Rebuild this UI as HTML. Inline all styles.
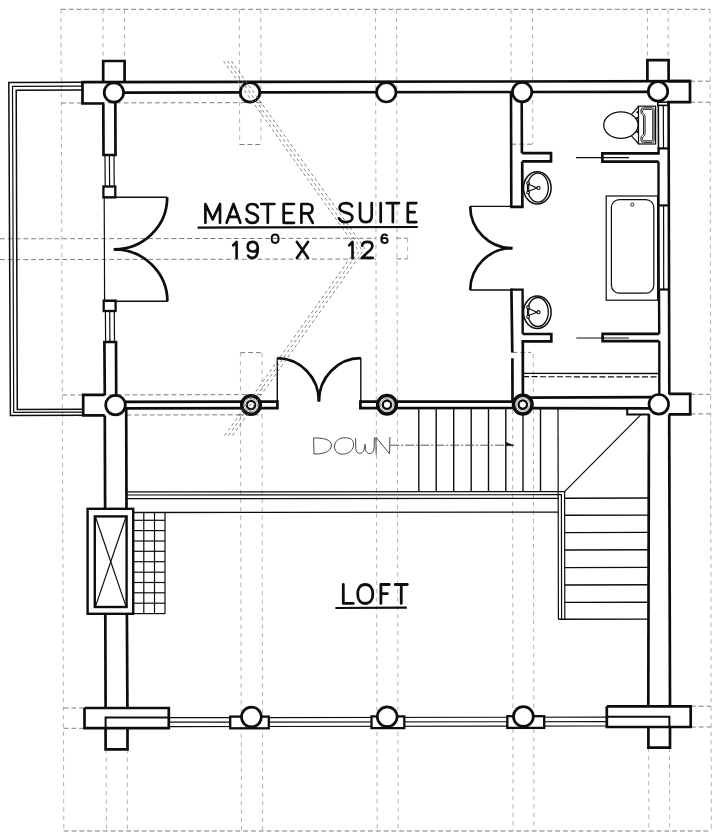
<!DOCTYPE html>
<html lang="en">
<head>
<meta charset="utf-8">
<title>Upper floor plan</title>
<style>
html,body{margin:0;padding:0;background:#fff;width:725px;height:840px;overflow:hidden;font-family:"Liberation Sans",sans-serif}
svg{display:block;position:absolute;left:0;top:0}
</style>
</head>
<body>
<svg width="725" height="840" viewBox="0 0 725 840" shape-rendering="geometricPrecision">
<rect x="0" y="0" width="725" height="840" fill="#ffffff"/>
<g id="dashes">
<line x1="61" y1="9.3" x2="710" y2="9.3" stroke="#7d7d7d" stroke-width="1.0" stroke-dasharray="4.8 3"/>
<line x1="63.8" y1="831" x2="711" y2="831" stroke="#7d7d7d" stroke-width="1.0" stroke-dasharray="4.8 3"/>
<line x1="61" y1="9.3" x2="63.8" y2="831" stroke="#9a9a9a" stroke-width="0.75" stroke-dasharray="4.4 4"/>
<line x1="710" y1="9.3" x2="711.3" y2="831" stroke="#9a9a9a" stroke-width="0.75" stroke-dasharray="4.4 4"/>
<line x1="103" y1="9.3" x2="103" y2="61" stroke="#9a9a9a" stroke-width="0.75" stroke-dasharray="4.4 4"/>
<line x1="124.5" y1="9.3" x2="124.5" y2="61" stroke="#9a9a9a" stroke-width="0.75" stroke-dasharray="4.4 4"/>
<line x1="647.5" y1="9.3" x2="647.5" y2="60" stroke="#9a9a9a" stroke-width="0.75" stroke-dasharray="4.4 4"/>
<line x1="668.2" y1="9.3" x2="668.2" y2="60" stroke="#9a9a9a" stroke-width="0.75" stroke-dasharray="4.4 4"/>
<line x1="106.2" y1="749" x2="106.4" y2="831" stroke="#9a9a9a" stroke-width="0.75" stroke-dasharray="4.4 4"/>
<line x1="127.2" y1="749" x2="127.4" y2="831" stroke="#9a9a9a" stroke-width="0.75" stroke-dasharray="4.4 4"/>
<line x1="648.7" y1="747.5" x2="648.9" y2="831" stroke="#9a9a9a" stroke-width="0.75" stroke-dasharray="4.4 4"/>
<line x1="669.5" y1="747.5" x2="669.7" y2="831" stroke="#9a9a9a" stroke-width="0.75" stroke-dasharray="4.4 4"/>
<line x1="239.3" y1="9.3" x2="239.7" y2="144.5" stroke="#9a9a9a" stroke-width="0.75" stroke-dasharray="4.4 4"/>
<line x1="260.8" y1="9.3" x2="261.1" y2="144.5" stroke="#9a9a9a" stroke-width="0.75" stroke-dasharray="4.4 4"/>
<line x1="239.7" y1="144.5" x2="261.1" y2="144.5" stroke="#7d7d7d" stroke-width="1.0" stroke-dasharray="4.8 3"/>
<line x1="240.4" y1="352.6" x2="240.5" y2="394.6" stroke="#9a9a9a" stroke-width="0.75" stroke-dasharray="4.4 4"/>
<line x1="262" y1="352.6" x2="262.1" y2="394.6" stroke="#9a9a9a" stroke-width="0.75" stroke-dasharray="4.4 4"/>
<line x1="240.4" y1="352.6" x2="262" y2="352.6" stroke="#7d7d7d" stroke-width="1.0" stroke-dasharray="4.8 3"/>
<line x1="240.5" y1="414.6" x2="241.5" y2="831" stroke="#9a9a9a" stroke-width="0.75" stroke-dasharray="4.4 4"/>
<line x1="262.1" y1="414.6" x2="262.6" y2="831" stroke="#9a9a9a" stroke-width="0.75" stroke-dasharray="4.4 4"/>
<line x1="238" y1="414.8" x2="262.1" y2="414.8" stroke="#7d7d7d" stroke-width="1.0" stroke-dasharray="4.8 3"/>
<line x1="375.5" y1="9.3" x2="377.2" y2="831" stroke="#9a9a9a" stroke-width="0.75" stroke-dasharray="4.4 4"/>
<line x1="396.6" y1="9.3" x2="398.2" y2="831" stroke="#9a9a9a" stroke-width="0.75" stroke-dasharray="4.4 4"/>
<line x1="511" y1="9.3" x2="511.2" y2="82" stroke="#9a9a9a" stroke-width="0.75" stroke-dasharray="4.4 4"/>
<line x1="532.5" y1="9.3" x2="532.6" y2="82" stroke="#9a9a9a" stroke-width="0.75" stroke-dasharray="4.4 4"/>
<line x1="532.7" y1="100" x2="532.8" y2="144" stroke="#9a9a9a" stroke-width="0.75" stroke-dasharray="4.4 4"/>
<line x1="511.5" y1="144.2" x2="532.8" y2="144.2" stroke="#7d7d7d" stroke-width="1.0" stroke-dasharray="4.8 3"/>
<line x1="512.6" y1="352.4" x2="531" y2="352.4" stroke="#7d7d7d" stroke-width="1.0" stroke-dasharray="4.8 3"/>
<line x1="533.3" y1="354" x2="533.4" y2="396" stroke="#9a9a9a" stroke-width="0.75" stroke-dasharray="4.4 4"/>
<line x1="512.6" y1="409.5" x2="513.1" y2="831" stroke="#9a9a9a" stroke-width="0.75" stroke-dasharray="4.4 4"/>
<line x1="533.4" y1="409.5" x2="533.9" y2="831" stroke="#9a9a9a" stroke-width="0.75" stroke-dasharray="4.4 4"/>
<line x1="61.3" y1="103" x2="261" y2="102.6" stroke="#7d7d7d" stroke-width="1.0" stroke-dasharray="4.8 3"/>
<line x1="0" y1="238.8" x2="376" y2="238.3" stroke="#7d7d7d" stroke-width="1.0" stroke-dasharray="4.8 3"/>
<line x1="0" y1="259.6" x2="376" y2="259.0" stroke="#7d7d7d" stroke-width="1.0" stroke-dasharray="4.8 3"/>
<line x1="396.4" y1="238.2" x2="407.6" y2="238.2" stroke="#7d7d7d" stroke-width="1.0" stroke-dasharray="4.8 3"/>
<line x1="396.4" y1="258.9" x2="407.6" y2="258.9" stroke="#7d7d7d" stroke-width="1.0" stroke-dasharray="4.8 3"/>
<line x1="407.6" y1="238.2" x2="407.6" y2="258.9" stroke="#9a9a9a" stroke-width="0.75" stroke-dasharray="4.4 4"/>
<line x1="62.3" y1="395" x2="262" y2="394.6" stroke="#7d7d7d" stroke-width="1.0" stroke-dasharray="4.8 3"/>
<line x1="126.5" y1="415" x2="240" y2="414.8" stroke="#7d7d7d" stroke-width="1.0" stroke-dasharray="4.8 3"/>
<line x1="61" y1="82.3" x2="82" y2="82.3" stroke="#7d7d7d" stroke-width="1.0" stroke-dasharray="4.8 3"/>
<line x1="690" y1="81.2" x2="710" y2="81.2" stroke="#7d7d7d" stroke-width="1.0" stroke-dasharray="4.8 3"/>
<line x1="690" y1="102.2" x2="710" y2="102.2" stroke="#7d7d7d" stroke-width="1.0" stroke-dasharray="4.8 3"/>
<line x1="690.5" y1="394.3" x2="710.5" y2="394.3" stroke="#7d7d7d" stroke-width="1.0" stroke-dasharray="4.8 3"/>
<line x1="690.5" y1="413.9" x2="710.5" y2="413.9" stroke="#7d7d7d" stroke-width="1.0" stroke-dasharray="4.8 3"/>
<line x1="691" y1="706.2" x2="711" y2="706.2" stroke="#7d7d7d" stroke-width="1.0" stroke-dasharray="4.8 3"/>
<line x1="691" y1="727" x2="711" y2="727" stroke="#7d7d7d" stroke-width="1.0" stroke-dasharray="4.8 3"/>
<line x1="63.6" y1="708" x2="84" y2="708" stroke="#7d7d7d" stroke-width="1.0" stroke-dasharray="4.8 3"/>
<line x1="63.6" y1="728.3" x2="84" y2="728.3" stroke="#7d7d7d" stroke-width="1.0" stroke-dasharray="4.8 3"/>
<line x1="62.3" y1="415.6" x2="83" y2="415.6" stroke="#7d7d7d" stroke-width="1.0" stroke-dasharray="4.8 3"/>
</g>
<g id="deck">
<polyline points="82.5,82.3 8.8,82.6 10.4,415.6 83.2,415.3" fill="none" stroke="#0d0d0d" stroke-width="1.5" />
<polyline points="82.5,86.2 12.5,86.4 13.7,412.4 83.2,412.2" fill="none" stroke="#0d0d0d" stroke-width="1.2" />
<polyline points="82.5,90 16.2,90.2 17.3,409.4 83.2,409.2" fill="none" stroke="#0d0d0d" stroke-width="1.5" />
</g>
<g id="north">
<line x1="81.4" y1="82.2" x2="691" y2="81.2" stroke="#0d0d0d" stroke-width="2.7" />
<line x1="120" y1="92.6" x2="650" y2="91.8" stroke="#0d0d0d" stroke-width="2.7" />
<polyline points="82.5,82.2 82.5,103.5 104,103.5" fill="none" stroke="#0d0d0d" stroke-width="2.7" />
<polyline points="103.2,82 103.2,61 124.6,61 124.6,82" fill="none" stroke="#0d0d0d" stroke-width="2.7" />
<polyline points="668.5,81.2 690,81.2 690,102.2 667,102.2" fill="none" stroke="#0d0d0d" stroke-width="2.7" />
<polyline points="647.4,81.3 647.4,60.2 668.6,60.2 668.6,81.3" fill="none" stroke="#0d0d0d" stroke-width="2.7" />
</g>
<g id="westup">
<polyline points="103.3,103.5 103.5,155 115.5,155 115.3,98" fill="none" stroke="#0d0d0d" stroke-width="2.7" />
<line x1="105" y1="155" x2="105.2" y2="186.5" stroke="#0d0d0d" stroke-width="1.2" />
<line x1="109.4" y1="155" x2="109.60000000000001" y2="186.5" stroke="#0d0d0d" stroke-width="1.2" />
<line x1="114" y1="155" x2="114.2" y2="186.5" stroke="#0d0d0d" stroke-width="1.2" />
<rect x="103.4" y="186.5" width="11.9" height="10.9" fill="none" stroke="#0d0d0d" stroke-width="2.3" />
<line x1="104.2" y1="197.4" x2="104.6" y2="300.6" stroke="#0d0d0d" stroke-width="1.2" />
<line x1="104.2" y1="197.2" x2="167.4" y2="197.2" stroke="#0d0d0d" stroke-width="1.4" />
<line x1="104.6" y1="301.2" x2="167.6" y2="301.2" stroke="#0d0d0d" stroke-width="1.4" />
<path d="M167.2,197.2 A53,52 0 0 1 113.8,249.3" fill="none" stroke="#0d0d0d" stroke-width="2.7" />
<path d="M167.4,301.2 A53.4,52 0 0 0 113.8,249.3" fill="none" stroke="#0d0d0d" stroke-width="2.7" />
<rect x="103.7" y="300.6" width="11.9" height="10.4" fill="none" stroke="#0d0d0d" stroke-width="2.3" />
<line x1="105.4" y1="311" x2="105.60000000000001" y2="341.8" stroke="#0d0d0d" stroke-width="1.2" />
<line x1="109.7" y1="311" x2="109.9" y2="341.8" stroke="#0d0d0d" stroke-width="1.2" />
<line x1="114.3" y1="311" x2="114.5" y2="341.8" stroke="#0d0d0d" stroke-width="1.2" />
<polyline points="104.8,395 104.4,342 116,342 116.2,398" fill="none" stroke="#0d0d0d" stroke-width="2.7" />
</g>
<g id="mid">
<polyline points="104.7,394.8 83.2,394.8 83.2,415.4 104.7,415.4" fill="none" stroke="#0d0d0d" stroke-width="2.7" />
<polyline points="120,401.8 277.4,401.7 277.4,408.2 120,408.3" fill="none" stroke="#0d0d0d" stroke-width="2.7" />
<polyline points="523,401.6 360.4,401.7 360.4,408.2 523,408.0" fill="none" stroke="#0d0d0d" stroke-width="2.7" />
<line x1="523" y1="397.6" x2="652" y2="397.2" stroke="#0d0d0d" stroke-width="2.7" />
<line x1="523" y1="408.2" x2="652" y2="408.3" stroke="#0d0d0d" stroke-width="2.7" />
<polyline points="627.2,408.3 627.2,414.6 649.5,414.6" fill="none" stroke="#0d0d0d" stroke-width="2" />
<polyline points="668.7,393.8 690.2,393.8 690.2,414.4 668.7,414.4" fill="none" stroke="#0d0d0d" stroke-width="2.7" />
<line x1="277.3" y1="358" x2="277.3" y2="401" stroke="#0d0d0d" stroke-width="1.4" />
<line x1="360.8" y1="358" x2="360.8" y2="401" stroke="#0d0d0d" stroke-width="1.4" />
<path d="M277.3,358.2 A42,43 0 0 1 318.9,401.5" fill="none" stroke="#0d0d0d" stroke-width="2.7" />
<path d="M360.8,358.2 A42,43 0 0 0 318.9,401.5" fill="none" stroke="#0d0d0d" stroke-width="2.7" />
</g>
<g id="westlow">
<line x1="104.8" y1="415.4" x2="105.1" y2="508.8" stroke="#0d0d0d" stroke-width="2.7" />
<line x1="126.2" y1="408.6" x2="126.5" y2="508.8" stroke="#0d0d0d" stroke-width="2.7" />
<line x1="105.3" y1="613.8" x2="105.6" y2="708" stroke="#0d0d0d" stroke-width="2.7" />
<line x1="126.9" y1="613.8" x2="127.4" y2="708" stroke="#0d0d0d" stroke-width="2.7" />
<rect x="87.6" y="508.8" width="45.6" height="105.0" fill="none" stroke="#0d0d0d" stroke-width="2.4" />
<rect x="94.8" y="516.4" width="31.8" height="90.6" fill="none" stroke="#0d0d0d" stroke-width="2.4" />
<line x1="95.5" y1="517" x2="126" y2="606.4" stroke="#0d0d0d" stroke-width="1.2" />
<line x1="126" y1="517" x2="95.5" y2="606.4" stroke="#0d0d0d" stroke-width="1.2" />
<line x1="143.8" y1="512.4" x2="143.8" y2="613.8" stroke="#0d0d0d" stroke-width="1.2" />
<line x1="154.5" y1="512.4" x2="154.5" y2="613.8" stroke="#0d0d0d" stroke-width="1.2" />
<line x1="165" y1="512.4" x2="165" y2="613.8" stroke="#0d0d0d" stroke-width="1.2" />
<line x1="133.2" y1="520.3" x2="165" y2="520.3" stroke="#0d0d0d" stroke-width="1.2" />
<line x1="133.2" y1="530.6" x2="165" y2="530.6" stroke="#0d0d0d" stroke-width="1.2" />
<line x1="133.2" y1="541" x2="165" y2="541" stroke="#0d0d0d" stroke-width="1.2" />
<line x1="133.2" y1="551.3" x2="165" y2="551.3" stroke="#0d0d0d" stroke-width="1.2" />
<line x1="133.2" y1="561.7" x2="165" y2="561.7" stroke="#0d0d0d" stroke-width="1.2" />
<line x1="133.2" y1="572.2" x2="165" y2="572.2" stroke="#0d0d0d" stroke-width="1.2" />
<line x1="133.2" y1="582.5" x2="165" y2="582.5" stroke="#0d0d0d" stroke-width="1.2" />
<line x1="133.2" y1="592.8" x2="165" y2="592.8" stroke="#0d0d0d" stroke-width="1.2" />
<line x1="133.2" y1="603.2" x2="165" y2="603.2" stroke="#0d0d0d" stroke-width="1.2" />
<line x1="133.2" y1="613.6" x2="165" y2="613.6" stroke="#0d0d0d" stroke-width="1.2" />
</g>
<g id="rail">
<polyline points="127,491.9 564.6,491.6 564.8,619.3" fill="none" stroke="#0d0d0d" stroke-width="1.2" />
<polyline points="127,495 561.4,494.7 561.6,619.3" fill="none" stroke="#0d0d0d" stroke-width="1.2" />
<polyline points="127,498.7 558.2,498.3 558.4,619.3" fill="none" stroke="#0d0d0d" stroke-width="1.2" />
<line x1="133.2" y1="512.5" x2="558.2" y2="512.1" stroke="#0d0d0d" stroke-width="1.3" />
<line x1="558.4" y1="619.3" x2="648.8" y2="619.1" stroke="#0d0d0d" stroke-width="1.4" />
<line x1="564.8" y1="498.2" x2="648.8" y2="498.0" stroke="#0d0d0d" stroke-width="1.4" />
<line x1="564.8" y1="515.3" x2="648.8" y2="515.0999999999999" stroke="#0d0d0d" stroke-width="1.4" />
<line x1="564.8" y1="532.6" x2="648.8" y2="532.4" stroke="#0d0d0d" stroke-width="1.4" />
<line x1="564.8" y1="550" x2="648.8" y2="549.8" stroke="#0d0d0d" stroke-width="1.4" />
<line x1="564.8" y1="567.6" x2="648.8" y2="567.4" stroke="#0d0d0d" stroke-width="1.4" />
<line x1="564.8" y1="585" x2="648.8" y2="584.8" stroke="#0d0d0d" stroke-width="1.4" />
<line x1="564.8" y1="602.4" x2="648.8" y2="602.1999999999999" stroke="#0d0d0d" stroke-width="1.4" />
<line x1="418.8" y1="408.4" x2="418.8" y2="491.6" stroke="#0d0d0d" stroke-width="1.4" />
<line x1="436.2" y1="408.4" x2="436.2" y2="491.6" stroke="#0d0d0d" stroke-width="1.4" />
<line x1="453.7" y1="408.4" x2="453.7" y2="491.6" stroke="#0d0d0d" stroke-width="1.4" />
<line x1="471.2" y1="408.4" x2="471.2" y2="491.6" stroke="#0d0d0d" stroke-width="1.4" />
<line x1="488.5" y1="408.4" x2="488.5" y2="491.6" stroke="#0d0d0d" stroke-width="1.4" />
<line x1="505.8" y1="408.4" x2="505.8" y2="491.6" stroke="#0d0d0d" stroke-width="1.4" />
<line x1="523" y1="408.4" x2="523" y2="491.6" stroke="#0d0d0d" stroke-width="1.4" />
<line x1="540.5" y1="408.4" x2="540.5" y2="491.6" stroke="#0d0d0d" stroke-width="1.4" />
<line x1="558" y1="408.3" x2="558.2" y2="498" stroke="#0d0d0d" stroke-width="1.2" />
<line x1="641" y1="414.6" x2="564.6" y2="491.6" stroke="#0d0d0d" stroke-width="1.2" />
<line x1="390.2" y1="445.2" x2="513.5" y2="445.2" stroke="#444" stroke-width="0.9" stroke-dasharray="9 2 2 2"/>
<path d="M513.8,445.6 L506.5,445.6 L506.5,442.6 Z" fill="#0d0d0d" stroke="#0d0d0d" stroke-width="0.6" />
</g>
<g id="east">
<rect x="657.8" y="102.2" width="10.8" height="3.2" fill="none" stroke="#0d0d0d" stroke-width="1.6" />
<line x1="658.3" y1="105.4" x2="658.5" y2="148.4" stroke="#0d0d0d" stroke-width="1.6" />
<line x1="663.3" y1="105.4" x2="663.5" y2="148.4" stroke="#0d0d0d" stroke-width="1.2" />
<line x1="658.6" y1="148.4" x2="669" y2="148.4" stroke="#0d0d0d" stroke-width="2.2" />
<line x1="658.6" y1="147.3" x2="658.6" y2="154.6" stroke="#0d0d0d" stroke-width="2.4" />
<line x1="668.6" y1="102" x2="669.3" y2="394" stroke="#0d0d0d" stroke-width="2.6" />
<line x1="658.5" y1="161.6" x2="658.5" y2="205.4" stroke="#0d0d0d" stroke-width="2.4" />
<line x1="658.5" y1="205.4" x2="669" y2="205.4" stroke="#0d0d0d" stroke-width="2.2" />
<line x1="658.7" y1="205.4" x2="659" y2="289.5" stroke="#0d0d0d" stroke-width="1.8" />
<line x1="663.6" y1="205.4" x2="663.7" y2="289.5" stroke="#0d0d0d" stroke-width="1.2" />
<line x1="658.9" y1="289.5" x2="669.2" y2="289.5" stroke="#0d0d0d" stroke-width="2.2" />
<line x1="659.0" y1="289.5" x2="659.2" y2="334" stroke="#0d0d0d" stroke-width="2.4" />
<line x1="659.3" y1="341" x2="659.3" y2="397.3" stroke="#0d0d0d" stroke-width="2.4" />
<line x1="648.9" y1="414.6" x2="648.3" y2="706.3" stroke="#0d0d0d" stroke-width="2.7" />
<line x1="669.2" y1="414.4" x2="670" y2="706.3" stroke="#0d0d0d" stroke-width="2.7" />
</g>
<g id="bath">
<line x1="511" y1="92" x2="511.3" y2="206.5" stroke="#0d0d0d" stroke-width="2.6" />
<line x1="521.7" y1="100" x2="521.9" y2="153.2" stroke="#0d0d0d" stroke-width="2.6" />
<polyline points="522.1,153.2 551,153.2 551,161.4 522.2,161.4" fill="none" stroke="#0d0d0d" stroke-width="2.7" />
<polyline points="522.2,161.4 522.4,206.8 510.2,206.8" fill="none" stroke="#0d0d0d" stroke-width="2.7" />
<polyline points="511.2,289.6 522.6,289.6 522.7,334" fill="none" stroke="#0d0d0d" stroke-width="2.4" />
<line x1="511.4" y1="288.4" x2="512.3" y2="352.4" stroke="#0d0d0d" stroke-width="2.7" />
<line x1="512.4" y1="358.2" x2="512.5" y2="401" stroke="#0d0d0d" stroke-width="2.7" />
<polyline points="522.7,334 551.3,334 551.3,341.4 522.8,341.4 522.9,398" fill="none" stroke="#0d0d0d" stroke-width="2.7" />
<polyline points="658.6,153.4 602.4,153.4 602.4,161.6 658.6,161.6" fill="none" stroke="#0d0d0d" stroke-width="2.7" />
<polyline points="659.2,333.8 602.6,333.8 602.6,341.2 659.2,341.2" fill="none" stroke="#0d0d0d" stroke-width="2.7" />
<line x1="576" y1="157.6" x2="629" y2="157.6" stroke="#0d0d0d" stroke-width="1.1" />
<line x1="576.3" y1="338" x2="628.8" y2="338" stroke="#0d0d0d" stroke-width="1.1" />
<line x1="523" y1="373.3" x2="658.4" y2="373.5" stroke="#0d0d0d" stroke-width="1.3" />
<line x1="523" y1="376.7" x2="658.4" y2="376.9" stroke="#0d0d0d" stroke-width="1.2" stroke-dasharray="6 2.5"/>
<line x1="470" y1="206.4" x2="511" y2="206.4" stroke="#0d0d0d" stroke-width="1.4" />
<line x1="470" y1="290" x2="511.4" y2="290" stroke="#0d0d0d" stroke-width="1.4" />
<path d="M470.2,206.4 A42,42 0 0 0 512.4,248.2" fill="none" stroke="#0d0d0d" stroke-width="2.7" />
<path d="M470.2,290 A42,42 0 0 1 512.4,248.2" fill="none" stroke="#0d0d0d" stroke-width="2.7" />
<rect x="606.2" y="196" width="51.4" height="104.2" fill="none" stroke="#0d0d0d" stroke-width="1.2" />
<rect x="611.4" y="199.6" width="42.4" height="93.6" fill="none" stroke="#0d0d0d" stroke-width="1.2" rx="8" ry="8"/>
<circle cx="632.3" cy="204.6" r="1.6" fill="#fff" stroke="#0d0d0d" stroke-width="0.9"/>
<ellipse cx="537.3" cy="187.9" rx="13.8" ry="16.2" fill="#fff" stroke="#0d0d0d" stroke-width="1.5"/>
<ellipse cx="537.9" cy="187.70000000000002" rx="10.4" ry="14.5" fill="none" stroke="#0d0d0d" stroke-width="1.3"/>
<circle cx="528.1" cy="183.0" r="1.4" fill="#fff" stroke="#0d0d0d" stroke-width="1.1"/>
<circle cx="528.1" cy="192.4" r="1.4" fill="#fff" stroke="#0d0d0d" stroke-width="1.1"/>
<circle cx="538.5" cy="187.9" r="1.6" fill="#fff" stroke="#0d0d0d" stroke-width="1.1"/>
<path d="M528.7,184.3 L536.9,187.9 L528.7,191.20000000000002 Z" fill="none" stroke="#0d0d0d" stroke-width="1.1" />
<ellipse cx="537.3" cy="312.2" rx="13.8" ry="16.2" fill="#fff" stroke="#0d0d0d" stroke-width="1.5"/>
<ellipse cx="537.9" cy="312.0" rx="10.4" ry="14.5" fill="none" stroke="#0d0d0d" stroke-width="1.3"/>
<circle cx="528.1" cy="307.3" r="1.4" fill="#fff" stroke="#0d0d0d" stroke-width="1.1"/>
<circle cx="528.1" cy="316.7" r="1.4" fill="#fff" stroke="#0d0d0d" stroke-width="1.1"/>
<circle cx="538.5" cy="312.2" r="1.6" fill="#fff" stroke="#0d0d0d" stroke-width="1.1"/>
<path d="M528.7,308.59999999999997 L536.9,312.2 L528.7,315.5 Z" fill="none" stroke="#0d0d0d" stroke-width="1.1" />
<ellipse cx="620.9" cy="125.1" rx="17.2" ry="13.3" fill="#fff" stroke="#0d0d0d" stroke-width="1.3"/>
<path d="M631.4,114.4 Q635.6,110.2 638.5,106.4" fill="none" stroke="#0d0d0d" stroke-width="1.2" />
<path d="M631.4,135.8 Q635.6,140 638.5,143.8" fill="none" stroke="#0d0d0d" stroke-width="1.2" />
<circle cx="637.2" cy="118.2" r="0.9" fill="#0d0d0d" stroke="#0d0d0d" stroke-width="0.9"/>
<circle cx="637.4" cy="131.8" r="0.9" fill="#0d0d0d" stroke="#0d0d0d" stroke-width="0.9"/>
<circle cx="637.6" cy="112.2" r="0.8" fill="#0d0d0d" stroke="#0d0d0d" stroke-width="0.9"/>
<rect x="638.5" y="106.2" width="17.1" height="37.8" fill="none" stroke="#0d0d0d" stroke-width="1.2" />
<path d="M643.4,107.9 L652.2,107.9 Q654.1,107.9 654.1,109.8 L654.1,140.4 Q654.1,142.3 652.2,142.3 L643.4,142.3 Q641,142.3 641,140.2 L641,138 Q641,136.2 642.4,135.4 Q643.6,134.6 643.6,133 L643.6,117.2 Q643.6,115.6 642.4,114.8 Q641,114 641,112.2 L641,110 Q641,107.9 643.4,107.9 Z" fill="none" stroke="#0d0d0d" stroke-width="1.0" />
<path d="M644.2,109.4 L651.6,109.4 Q652.7,109.4 652.7,110.5 L652.7,139.7 Q652.7,140.8 651.6,140.8 L644.2,140.8 Q642.5,140.8 642.5,139.6 L642.5,138.2 Q642.5,137.2 643.7,136.4 Q645.1,135.4 645.1,133.4 L645.1,116.8 Q645.1,114.8 643.7,113.8 Q642.5,113 642.5,112 L642.5,110.6 Q642.5,109.4 644.2,109.4 Z" fill="none" stroke="#0d0d0d" stroke-width="0.9" />
</g>
<g id="south">
<line x1="168.8" y1="717.7" x2="606.8" y2="717.1" stroke="#0d0d0d" stroke-width="1.2" />
<line x1="168.8" y1="722.2" x2="606.8" y2="721.6" stroke="#0d0d0d" stroke-width="1.2" />
<line x1="168.8" y1="726.6" x2="606.8" y2="726.0" stroke="#0d0d0d" stroke-width="1.2" />
<polyline points="84.5,708 168.8,708 168.8,728.2 84.5,728.2 84.5,708" fill="none" stroke="#0d0d0d" stroke-width="2.7" stroke-linejoin="miter"/>
<polyline points="105.6,728.2 105.6,717.6 168.8,717.6" fill="none" stroke="#0d0d0d" stroke-width="2" />
<polyline points="105.6,728.2 105.6,749.4 127.5,749.4 127.5,728.2" fill="none" stroke="#0d0d0d" stroke-width="2.7" />
<polyline points="606.8,706.3 690.7,706.3 690.7,727 606.8,727 606.8,706.3" fill="none" stroke="#0d0d0d" stroke-width="2.7" />
<polyline points="606.8,716.8 669.4,716.8 669.4,727" fill="none" stroke="#0d0d0d" stroke-width="2" />
<polyline points="648.4,727 648.4,747.6 670,747.6 670,727" fill="none" stroke="#0d0d0d" stroke-width="2.7" />
<rect x="230.2" y="716.6" width="38.6" height="11.7" fill="#fff" stroke="#0d0d0d" stroke-width="2.3" />
<circle cx="251.4" cy="717.0" r="9.9" fill="#fff" stroke="#0d0d0d" stroke-width="2.7"/>
<rect x="371.5" y="716.4" width="32.8" height="11.7" fill="#fff" stroke="#0d0d0d" stroke-width="2.3" />
<circle cx="387.2" cy="716.8" r="9.9" fill="#fff" stroke="#0d0d0d" stroke-width="2.7"/>
<rect x="507.3" y="716.2" width="36.9" height="11.7" fill="#fff" stroke="#0d0d0d" stroke-width="2.3" />
<circle cx="523.4" cy="716.5" r="9.9" fill="#fff" stroke="#0d0d0d" stroke-width="2.7"/>
</g>
<g id="posts">
<circle cx="113.9" cy="92.5" r="9.7" fill="#fff" stroke="#0d0d0d" stroke-width="2.7"/>
<circle cx="250" cy="92.4" r="9.7" fill="#fff" stroke="#0d0d0d" stroke-width="2.7"/>
<circle cx="386.3" cy="92.3" r="9.7" fill="#fff" stroke="#0d0d0d" stroke-width="2.7"/>
<circle cx="522.1" cy="92.1" r="9.7" fill="#fff" stroke="#0d0d0d" stroke-width="2.7"/>
<circle cx="658" cy="91.4" r="9.7" fill="#fff" stroke="#0d0d0d" stroke-width="2.7"/>
<circle cx="115.5" cy="405.1" r="9.8" fill="#fff" stroke="#0d0d0d" stroke-width="2.7"/>
<circle cx="658.8" cy="404.3" r="9.8" fill="#fff" stroke="#0d0d0d" stroke-width="2.7"/>
<circle cx="251" cy="405" r="9.3" fill="#fff" stroke="#0d0d0d" stroke-width="3.5"/>
<circle cx="251" cy="405" r="6.6" fill="none" stroke="#777" stroke-width="0.7"/>
<circle cx="251" cy="405" r="4.2" fill="#fff" stroke="#0d0d0d" stroke-width="2.3"/>
<circle cx="387" cy="404.7" r="9.3" fill="#fff" stroke="#0d0d0d" stroke-width="3.5"/>
<circle cx="387" cy="404.7" r="6.6" fill="none" stroke="#777" stroke-width="0.7"/>
<circle cx="387" cy="404.7" r="4.2" fill="#fff" stroke="#0d0d0d" stroke-width="2.3"/>
<circle cx="522.8" cy="404.6" r="9.3" fill="#fff" stroke="#0d0d0d" stroke-width="3.5"/>
<circle cx="522.8" cy="404.6" r="6.6" fill="none" stroke="#777" stroke-width="0.7"/>
<circle cx="522.8" cy="404.6" r="4.2" fill="#fff" stroke="#0d0d0d" stroke-width="2.3"/>
</g>
<g id="chevron">
<polyline points="223.6,61 357.0,248.5 224.6,435.6" fill="none" stroke="#747474" stroke-width="0.9" stroke-dasharray="3.2 2.8"/>
<polyline points="227.5,61 360.9,248.5 228.5,435.6" fill="none" stroke="#747474" stroke-width="0.9" stroke-dasharray="3.2 2.8"/>
<polyline points="231.4,61 364.8,248.5 232.4,435.6" fill="none" stroke="#747474" stroke-width="0.9" stroke-dasharray="3.2 2.8"/>
</g>
<g id="text">
<path d="M205.4,222.8 L205.4,204.0 L212.7,219.42 L220.0,204.0 L220.0,222.8" fill="none" stroke="#0d0d0d" stroke-width="2.7" stroke-linecap="round" stroke-linejoin="round"/>
<path d="M226.6,222.8 L233.5,204.0 L240.4,222.8 M228.81,216.78 L238.19,216.78" fill="none" stroke="#0d0d0d" stroke-width="2.7" stroke-linecap="round" stroke-linejoin="round"/>
<path d="M257.65,207.2 C256.84,204.94 254.75,204.0 252.2,204.0 C248.95,204.0 246.86,205.88 246.86,208.7 C246.86,211.9 249.65,212.65 252.43,213.4 C255.68,214.34 258.0,215.28 258.0,218.29 C258.0,221.11 255.68,222.8 252.43,222.8 C249.42,222.8 247.21,221.48 246.4,219.04" fill="none" stroke="#0d0d0d" stroke-width="2.7" stroke-linecap="round" stroke-linejoin="round"/>
<path d="M261.2,204.0 L274.4,204.0 M267.8,204.0 L267.8,222.8" fill="none" stroke="#0d0d0d" stroke-width="2.7" stroke-linecap="round" stroke-linejoin="round"/>
<path d="M294.0,204.0 L283.7,204.0 L283.7,222.8 L294.0,222.8 M283.7,213.02 L291.94,213.02" fill="none" stroke="#0d0d0d" stroke-width="2.7" stroke-linecap="round" stroke-linejoin="round"/>
<path d="M301.4,222.8 L301.4,204.0 L307.67,204.0 C311.2,204.0 312.46,206.26 312.46,208.7 C312.46,211.52 310.98,213.4 307.67,213.4 L301.4,213.4 M307.67,213.4 L312.8,222.8" fill="none" stroke="#0d0d0d" stroke-width="2.7" stroke-linecap="round" stroke-linejoin="round"/>
<path d="M352.0,206.33 C351.06,204.05 348.65,203.1 345.7,203.1 C341.95,203.1 339.54,205.0 339.54,207.85 C339.54,211.08 342.75,211.84 345.97,212.6 C349.72,213.55 352.4,214.5 352.4,217.54 C352.4,220.39 349.72,222.1 345.97,222.1 C342.48,222.1 339.94,220.77 339.0,218.3" fill="none" stroke="#0d0d0d" stroke-width="2.7" stroke-linecap="round" stroke-linejoin="round"/>
<path d="M360.0,203.1 L360.0,216.02 C360.0,220.2 362.34,222.1 365.85,222.1 C369.36,222.1 371.7,220.2 371.7,216.02 L371.7,203.1" fill="none" stroke="#0d0d0d" stroke-width="2.7" stroke-linecap="round" stroke-linejoin="round"/>
<path d="M380.7,203.1 L380.7,222.1" fill="none" stroke="#0d0d0d" stroke-width="2.7" stroke-linecap="round" stroke-linejoin="round"/>
<path d="M386.7,203.1 L399.0,203.1 M392.85,203.1 L392.85,222.1" fill="none" stroke="#0d0d0d" stroke-width="2.7" stroke-linecap="round" stroke-linejoin="round"/>
<path d="M416.3,203.1 L407.8,203.1 L407.8,222.1 L416.3,222.1 M407.8,212.22 L414.6,212.22" fill="none" stroke="#0d0d0d" stroke-width="2.7" stroke-linecap="round" stroke-linejoin="round"/>
<line x1="197.6" y1="227.6" x2="417.8" y2="227.0" stroke="#0d0d0d" stroke-width="2.2" />
<path d="M233.2,245.42 L236.6,241.9 L236.6,257.9" fill="none" stroke="#0d0d0d" stroke-width="2.6" stroke-linecap="round" stroke-linejoin="round"/>
<path d="M257.8,247.02 C257.8,249.9 255.78,251.5 252.75,251.5 C249.72,251.5 247.7,249.9 247.7,246.86 C247.7,243.82 249.72,241.9 252.75,241.9 C255.98,241.9 257.8,244.14 257.8,248.62 C257.8,254.7 255.78,257.9 252.35,257.9 C250.43,257.9 248.91,257.1 248.1,255.66" fill="none" stroke="#0d0d0d" stroke-width="2.6" stroke-linecap="round" stroke-linejoin="round"/>
<path d="M296.9,241.9 L308.0,257.9 M308.0,241.9 L296.9,257.9" fill="none" stroke="#0d0d0d" stroke-width="2.6" stroke-linecap="round" stroke-linejoin="round"/>
<path d="M349.2,245.42 L352.5,241.9 L352.5,257.9" fill="none" stroke="#0d0d0d" stroke-width="2.6" stroke-linecap="round" stroke-linejoin="round"/>
<path d="M362.03,245.74 C362.37,243.34 364.36,241.9 367.25,241.9 C370.36,241.9 372.36,243.5 372.36,246.06 C372.36,248.3 370.8,249.9 368.36,251.82 L361.7,257.9 L372.8,257.9" fill="none" stroke="#0d0d0d" stroke-width="2.6" stroke-linecap="round" stroke-linejoin="round"/>
<path d="M275.15,234.5 C272.8,234.5 271.7,236.18 271.7,238.7 C271.7,241.22 272.8,242.9 275.15,242.9 C277.5,242.9 278.6,241.22 278.6,238.7 C278.6,236.18 277.5,234.5 275.15,234.5 Z" fill="none" stroke="#0d0d0d" stroke-width="2.0" stroke-linecap="round" stroke-linejoin="round"/>
<path d="M386.97,235.34 C386.47,234.75 385.71,234.5 384.7,234.5 C382.43,234.5 381.3,236.18 381.3,239.37 C381.3,241.72 382.43,242.9 384.45,242.9 C386.34,242.9 387.6,241.89 387.6,240.38 C387.6,238.87 386.34,238.03 384.58,238.03 C382.88,238.03 381.62,238.87 381.3,240.04" fill="none" stroke="#0d0d0d" stroke-width="2.0" stroke-linecap="round" stroke-linejoin="round"/>
<path d="M343.3,584.5 L343.3,603.4 L353.3,603.4" fill="none" stroke="#0d0d0d" stroke-width="2.8" stroke-linecap="round" stroke-linejoin="round"/>
<path d="M365.25,584.5 C360.42,584.5 357.7,588.28 357.7,593.95 C357.7,599.62 360.42,603.4 365.25,603.4 C370.08,603.4 372.8,599.62 372.8,593.95 C372.8,588.28 370.08,584.5 365.25,584.5 Z" fill="none" stroke="#0d0d0d" stroke-width="2.8" stroke-linecap="round" stroke-linejoin="round"/>
<path d="M389.3,584.5 L380.9,584.5 L380.9,603.4 M380.9,593.57 L387.45,593.57" fill="none" stroke="#0d0d0d" stroke-width="2.8" stroke-linecap="round" stroke-linejoin="round"/>
<path d="M395.2,584.5 L407.3,584.5 M401.25,584.5 L401.25,603.4" fill="none" stroke="#0d0d0d" stroke-width="2.8" stroke-linecap="round" stroke-linejoin="round"/>
<line x1="335.4" y1="608.0" x2="406.8" y2="607.6" stroke="#0d0d0d" stroke-width="2.2" />
<path d="M313.6,438.4 L314,454 C324,454.4 331.6,451 331.4,445 C331.2,439.6 323,437.6 313,438" fill="none" stroke="#484848" stroke-width="1" />
<path d="M345,437.8 C338,437.4 333.8,442.6 334.6,448 C335.4,453.4 341,455.2 346.4,453.6 C351.6,452 354.4,447 353.4,442.6 C352.4,438.6 348.6,437.8 345,437.8 Z" fill="none" stroke="#484848" stroke-width="1" />
<path d="M355.6,438.2 L355.8,449 C356,454.4 362.4,455 364.2,449.6 L365,444.4 L365.4,449.6 C366.4,455 373.6,454.8 374,449 L374.4,437.6" fill="none" stroke="#484848" stroke-width="1" />
<path d="M376.2,454.6 L375.9,437.2 L389.6,453.8 L389.9,437" fill="none" stroke="#484848" stroke-width="1" />
</g>
</svg>
</body>
</html>
